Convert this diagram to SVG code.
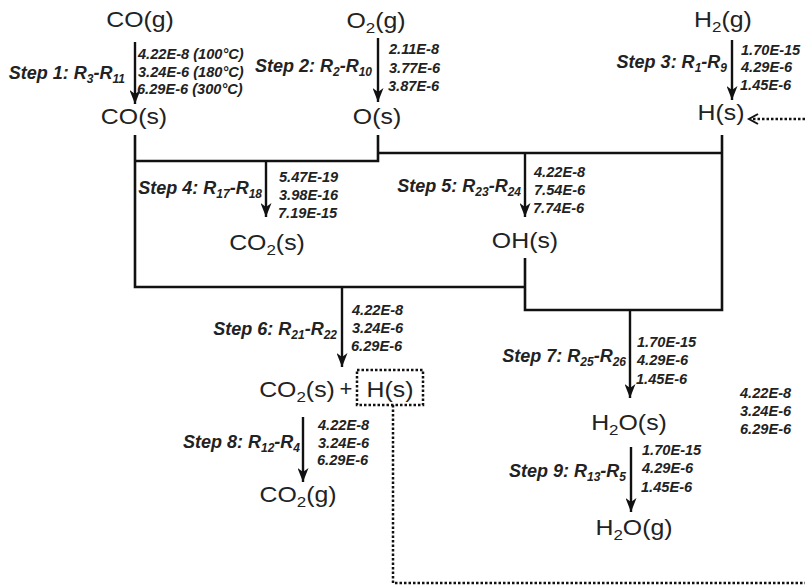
<svg xmlns="http://www.w3.org/2000/svg" width="805" height="586" viewBox="0 0 805 586">
<defs>
<style>
.n{font-family:"Liberation Sans",Arial,sans-serif;font-size:22px;fill:#222;text-anchor:middle}
.s{font-family:"Liberation Sans",Arial,sans-serif;font-size:18px;font-weight:bold;font-style:italic;fill:#222;text-anchor:end}
.v{font-family:"Liberation Sans",Arial,sans-serif;font-size:14.6px;font-weight:bold;font-style:italic;fill:#222}
.ln{fill:none;stroke:#111;stroke-width:2.6}
.ar{fill:none;stroke:#111;stroke-width:2.4;marker-end:url(#ah)}
.dt{fill:none;stroke:#111;stroke-width:2.5;stroke-dasharray:2.5 2}
</style>
<marker id="ah" markerUnits="userSpaceOnUse" viewBox="0 0 14 11" refX="14" refY="5.5" markerWidth="14" markerHeight="11" orient="auto">
<path d="M0,0 L14,5.5 L0,11 L4,5.5 z" fill="#111"/>
</marker>
</defs>
<rect width="805" height="586" fill="#fff"/>

<g id="connectors">
<path class="ln" d="M135,135 V287 H525"/>
<path class="ln" d="M135,161 H378 V135"/>
<path class="ln" d="M378,153 H722"/>
<path class="ln" d="M722,135 V310 H525 V258"/>
<path class="ar" d="M135,42 V104"/>
<path class="ar" d="M378,38 V102"/>
<path class="ar" d="M732,40 V100"/>
<path class="ar" d="M266,161 V217"/>
<path class="ar" d="M525,153 V217"/>
<path class="ar" d="M342,287 V367"/>
<path class="ar" d="M630,310 V398"/>
<path class="ar" d="M303,417 V482"/>
<path class="ar" d="M631,447 V512"/>
<rect class="dt" x="357" y="370" width="66" height="35"/>
<path class="dt" d="M393,405 V583 H805"/>
<path class="dt" d="M805,119 H751"/>
<path d="M758,114 L749,119 L758,124" fill="none" stroke="#111" stroke-width="2"/>
</g>

<g id="COg"><text class="n" transform="translate(140,27) scale(1.13,1)">CO(g)</text></g>
<g id="COs"><text class="n" transform="translate(134,124) scale(1.13,1)">CO(s)</text></g>
<g id="O2g"><text class="n" transform="translate(376,28) scale(1.13,1)">O<tspan font-size="15" dy="5">2</tspan><tspan dy="-5">(g)</tspan></text></g>
<g id="Os"><text class="n" transform="translate(377,124) scale(1.13,1)">O(s)</text></g>
<g id="H2g"><text class="n" transform="translate(723,27) scale(1.13,1)">H<tspan font-size="15" dy="5">2</tspan><tspan dy="-5">(g)</tspan></text></g>
<g id="Hs"><text class="n" transform="translate(721,120) scale(1.13,1)">H(s)</text></g>
<g id="CO2s"><text class="n" transform="translate(267,250) scale(1.13,1)">CO<tspan font-size="15" dy="5">2</tspan><tspan dy="-5">(s)</tspan></text></g>
<g id="OHs"><text class="n" transform="translate(525,248) scale(1.13,1)">OH(s)</text></g>
<g id="CO2sHs">
<text class="n" transform="translate(297,397) scale(1.13,1)">CO<tspan font-size="15" dy="5">2</tspan><tspan dy="-5">(s)</tspan></text>
<text class="n" transform="translate(346,396) scale(1,1)" font-size="20">+</text>
<text class="n" transform="translate(390,397) scale(1.13,1)">H(s)</text>
</g>
<g id="H2Os"><text class="n" transform="translate(629,430) scale(1.13,1)">H<tspan font-size="15" dy="5">2</tspan><tspan dy="-5">O(s)</tspan></text></g>
<g id="CO2g"><text class="n" transform="translate(298,502) scale(1.13,1)">CO<tspan font-size="15" dy="5">2</tspan><tspan dy="-5">(g)</tspan></text></g>
<g id="H2Og"><text class="n" transform="translate(634,535) scale(1.13,1)">H<tspan font-size="15" dy="5">2</tspan><tspan dy="-5">O(g)</tspan></text></g>

<g id="step1">
<text class="s" x="125" y="79">Step 1: R<tspan font-size="12" dy="4">3</tspan><tspan dy="-4">-R</tspan><tspan font-size="12" dy="4">11</tspan></text>
<text class="v" x="138" y="59">4.22E-8 (100°C)</text>
<text class="v" x="138" y="77">3.24E-6 (180°C)</text>
<text class="v" x="137" y="94">6.29E-6 (300°C)</text>
</g>
<g id="step2">
<text class="s" x="372" y="72">Step 2: R<tspan font-size="12" dy="4">2</tspan><tspan dy="-4">-R</tspan><tspan font-size="12" dy="4">10</tspan></text>
<text class="v" x="389" y="54">2.11E-8</text>
<text class="v" x="389" y="73">3.77E-6</text>
<text class="v" x="388" y="91">3.87E-6</text>
</g>
<g id="step3">
<text class="s" x="727" y="68">Step 3: R<tspan font-size="12" dy="4">1</tspan><tspan dy="-4">-R</tspan><tspan font-size="12" dy="4">9</tspan></text>
<text class="v" x="741" y="55">1.70E-15</text>
<text class="v" x="741" y="72">4.29E-6</text>
<text class="v" x="740" y="90">1.45E-6</text>
</g>
<g id="step4">
<text class="s" x="262" y="194">Step 4: R<tspan font-size="12" dy="4">17</tspan><tspan dy="-4">-R</tspan><tspan font-size="12" dy="4">18</tspan></text>
<text class="v" x="279" y="182">5.47E-19</text>
<text class="v" x="279" y="200">3.98E-16</text>
<text class="v" x="278" y="218">7.19E-15</text>
</g>
<g id="step5">
<text class="s" x="521" y="192">Step 5: R<tspan font-size="12" dy="4">23</tspan><tspan dy="-4">-R</tspan><tspan font-size="12" dy="4">24</tspan></text>
<text class="v" x="534" y="177">4.22E-8</text>
<text class="v" x="534" y="195">7.54E-6</text>
<text class="v" x="533" y="213">7.74E-6</text>
</g>
<g id="step6">
<text class="s" x="337" y="335">Step 6: R<tspan font-size="12" dy="4">21</tspan><tspan dy="-4">-R</tspan><tspan font-size="12" dy="4">22</tspan></text>
<text class="v" x="352" y="315">4.22E-8</text>
<text class="v" x="352" y="333">3.24E-6</text>
<text class="v" x="351" y="351">6.29E-6</text>
</g>
<g id="step7">
<text class="s" x="626" y="362">Step 7: R<tspan font-size="12" dy="4">25</tspan><tspan dy="-4">-R</tspan><tspan font-size="12" dy="4">26</tspan></text>
<text class="v" x="637" y="347">1.70E-15</text>
<text class="v" x="637" y="365">4.29E-6</text>
<text class="v" x="636" y="384">1.45E-6</text>
</g>
<g id="extra">
<text class="v" x="740" y="398">4.22E-8</text>
<text class="v" x="740" y="416">3.24E-6</text>
<text class="v" x="740" y="434">6.29E-6</text>
</g>
<g id="step8">
<text class="s" x="300" y="448">Step 8: R<tspan font-size="12" dy="4">12</tspan><tspan dy="-4">-R</tspan><tspan font-size="12" dy="4">4</tspan></text>
<text class="v" x="318" y="430">4.22E-8</text>
<text class="v" x="318" y="448">3.24E-6</text>
<text class="v" x="317" y="465">6.29E-6</text>
</g>
<g id="step9">
<text class="s" x="626" y="477">Step 9: R<tspan font-size="12" dy="4">13</tspan><tspan dy="-4">-R</tspan><tspan font-size="12" dy="4">5</tspan></text>
<text class="v" x="642" y="455">1.70E-15</text>
<text class="v" x="642" y="473">4.29E-6</text>
<text class="v" x="641" y="492">1.45E-6</text>
</g>
</svg>
